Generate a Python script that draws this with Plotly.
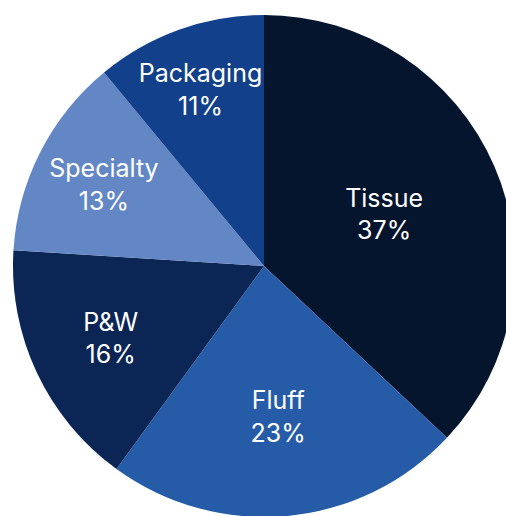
import plotly.graph_objects as go

labels = ["Tissue", "Fluff", "P&W", "Specialty", "Packaging"]
values = [37, 23, 16, 13, 11]
colors = ["#05152D", "#265BA7", "#0B2655", "#6387C5", "#12408B"]

fig = go.Figure(go.Pie(
    labels=labels,
    values=values,
    sort=False,
    direction="clockwise",
    rotation=0,
    marker=dict(colors=colors, line=dict(width=0)),
    texttemplate="%{label}<br>%{percent:.0%}",
    textposition="inside",
    insidetextorientation="horizontal",
    textfont=dict(family="Inter", size=25, color="white"),
    hoverinfo="skip",
    showlegend=False,
))

fig.update_layout(
    width=515, height=517, autosize=False,
    margin=dict(l=13, r=0, t=15, b=0),
    paper_bgcolor="white",
    plot_bgcolor="white",
    uniformtext=dict(minsize=25, mode="show"),
)

fig.write_html("out.html")
